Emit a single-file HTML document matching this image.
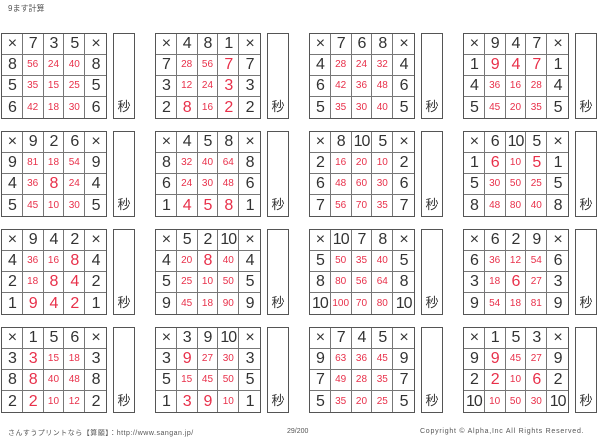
<!DOCTYPE html>
<html><head><meta charset="utf-8"><style>
body{margin:0;width:600px;height:439px;background:#fff;position:relative;overflow:hidden;font-family:"Liberation Sans","Noto Sans CJK JP",sans-serif;}
.g{position:absolute;width:106px;height:86px;border:1.5px solid #555;box-sizing:border-box;display:grid;grid-template-columns:repeat(5,1fr);grid-template-rows:repeat(4,1fr);}
.c{border-right:1px solid #777;border-bottom:1px solid #777;display:flex;align-items:center;justify-content:center;color:#333;font-size:16px;line-height:1;letter-spacing:-1px}
.c:nth-child(5n){border-right:none}.c:nth-child(n+16){border-bottom:none}
.r{color:#e8304a;font-size:10px;letter-spacing:0}.R{color:#e8304a;font-size:16px}
.s{position:absolute;width:22px;height:86px;border:1.5px solid #555;box-sizing:border-box;font-size:13px;color:#333;display:flex;align-items:flex-end;justify-content:center;padding-bottom:3px;}
.t{position:absolute;font-size:7px;color:#555;white-space:nowrap}
</style></head><body>
<div class="t" style="left:8px;top:3px;font-size:8px">9ます計算</div>
<div id="w"></div>
<div class="t" style="left:8px;top:428px;letter-spacing:0.5px">さんすうプリントなら【算願】：http://www.sangan.jp/</div>
<div class="t" style="left:287px;top:428px">29/200</div>
<div class="t" style="left:420px;top:428px;letter-spacing:0.75px">Copyright © Alpha,Inc All Rights Reserved.</div>
<script>
var D=[[[7,3,5],[8,5,6]],[[4,8,1],[7,3,2]],[[7,6,8],[4,6,5]],[[9,4,7],[1,4,5]],
[[9,2,6],[9,4,5]],[[4,5,8],[8,6,1]],[[8,10,5],[2,6,7]],[[6,10,5],[1,5,8]],
[[9,4,2],[4,2,1]],[[5,2,10],[4,5,9]],[[10,7,8],[5,8,10]],[[6,2,9],[6,3,9]],
[[1,5,6],[3,8,2]],[[3,9,10],[3,5,1]],[[7,4,5],[9,7,5]],[[1,5,3],[9,2,10]]];
var xs=[1,155,309,463],ys=[33,131,229,327],h='';
D.forEach(function(d,i){var x=xs[i%4],y=ys[Math.floor(i/4)];
h+='<div class="g" style="left:'+x+'px;top:'+y+'px"><div class="c">×</div>';
d[0].forEach(function(a){h+='<div class="c">'+a+'</div>'});h+='<div class="c">×</div>';
d[1].forEach(function(b){h+='<div class="c">'+b+'</div>';d[0].forEach(function(a){var p=a*b;h+='<div class="c '+(p<10?'R':'r')+'">'+p+'</div>'});h+='<div class="c">'+b+'</div>'});
h+='</div><div class="s" style="left:'+(x+112)+'px;top:'+y+'px">秒</div>';});
document.getElementById('w').innerHTML=h;
</script>
</body></html>
